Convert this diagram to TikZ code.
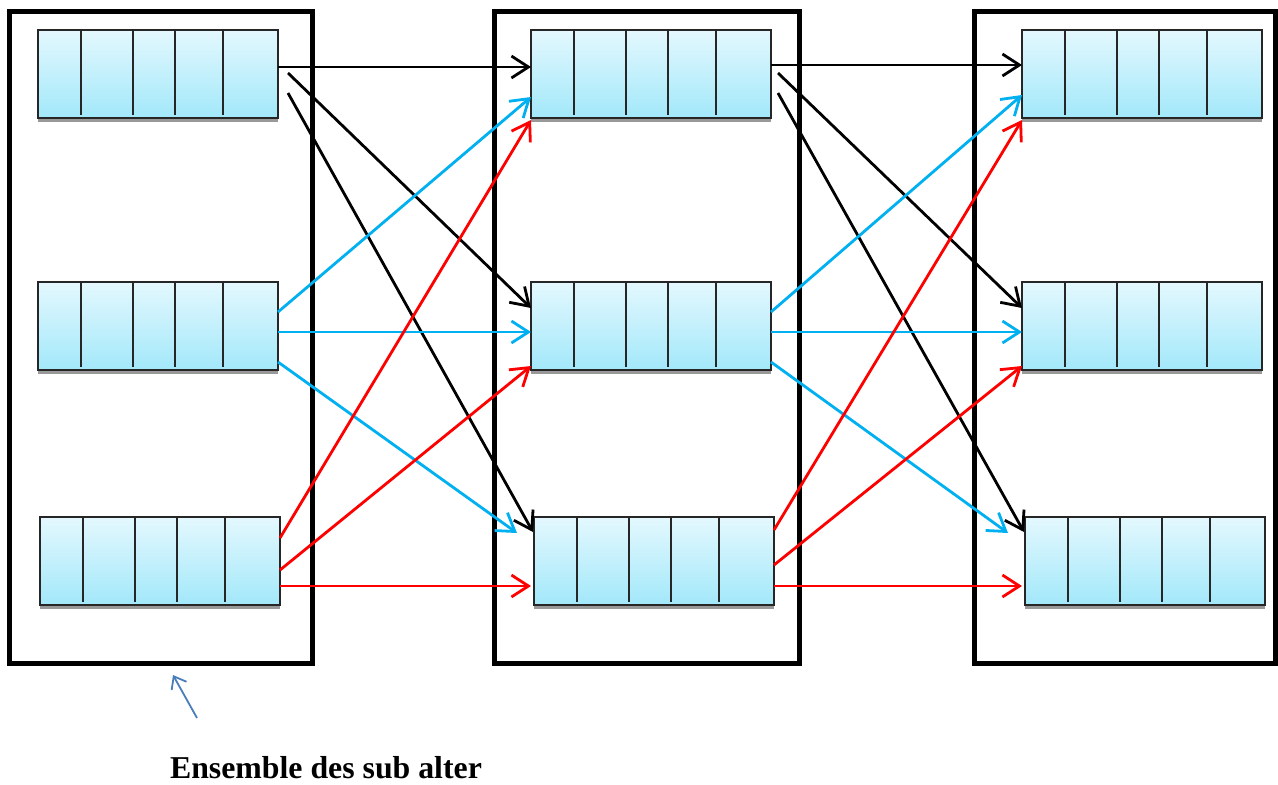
\documentclass[tikz,border=0pt]{standalone}
\usepackage{fontspec}
\setmainfont{Liberation Serif}
\usetikzlibrary{arrows.meta,calc}
\definecolor{qtop}{RGB}{228,248,254}
\definecolor{qbot}{RGB}{162,232,250}
\definecolor{linkblue}{RGB}{0,176,240}
\definecolor{linkred}{RGB}{255,0,0}
\definecolor{ptrblue}{RGB}{74,126,187}
\tikzset{
  frame/.style={draw=black,line width=5pt},
  qbox/.style={draw=black!85,line width=2.6pt,top color=qtop,bottom color=qbot,
    minimum width=240pt,minimum height=88pt,inner sep=0pt,outer sep=0pt},
  divider/.style={draw=black!85,line width=2.2pt},
  qshadow/.style={fill=black!40},
  link/.style={line width=2.8pt,-{Straight Barb[length=17pt,width=22pt,line width=2.8pt]}},
  klink/.style={link,draw=black},
  blink/.style={link,draw=linkblue},
  rlink/.style={link,draw=linkred},
  ptr/.style={draw=ptrblue,line width=1.8pt,-{Straight Barb[length=11pt,width=17pt,line width=1.8pt]}},
  caption/.style={font=\bfseries\fontsize{31.8}{38}\selectfont,inner sep=0pt}
}
\newcommand\queuebox[3]{%
  \fill[qshadow] (#2,#3+88) rectangle (#2+240,#3+92);
  \node[qbox] (#1) at (#2+120,#3+44) {};
  \foreach \d in {43,95,137,185}
    \draw[divider] ($(#1.north west)+(\d,0)$) -- ($(#1.south west)+(\d,-3)$);
}
\begin{document}
\begin{tikzpicture}[x=1pt,y=-1pt]
\useasboundingbox (0,0) rectangle (1278,785);
\fill[white] (0,0) rectangle (1278,785);
% frames
\draw[frame] (9.5,11.5) rectangle (312.5,663);
\draw[frame] (494.5,11.5) rectangle (799.5,663);
\draw[frame] (974,11.5) rectangle (1275.5,663);
% queues
\queuebox{c1t}{38}{30}
\queuebox{c1m}{38}{282}
\queuebox{c1b}{40}{517}
\queuebox{c2t}{531}{30}
\queuebox{c2m}{531}{282}
\queuebox{c2b}{534}{517}
\queuebox{c3t}{1022}{30}
\queuebox{c3m}{1022}{282}
\queuebox{c3b}{1025}{517}
% column 1 -> column 2
\draw[klink] ($(c1t.north east)+(0,37)$) -- ($(c2t.north west)+(0,37)$);
\draw[klink] ($(c1t.north east)+(10,43)$) -- ($(c2m.north west)+(0,26)$);
\draw[klink] ($(c1t.north east)+(10,63)$) -- ($(c2b.north west)+(-1,15)$);
\draw[blink] ($(c1m.north east)+(0,30)$) -- ($(c2t.north west)+(0,67)$);
\draw[blink] ($(c1m.north east)+(0,50)$) -- ($(c2m.north west)+(0,50)$);
\draw[blink] ($(c1m.north east)+(0,80)$) -- ($(c2b.north west)+(-17,16)$);
\draw[rlink] ($(c1b.north east)+(0,21)$) -- ($(c2t.south west)+(0,2)$);
\draw[rlink] ($(c1b.north east)+(0,53)$) -- ($(c2m.north west)+(0,84)$);
\draw[rlink] ($(c1b.north east)+(0,69)$) -- ($(c2b.north west)+(-3,69)$);
% column 2 -> column 3
\draw[klink] ($(c2t.north east)+(0,35)$) -- ($(c3t.north west)+(0,35)$);
\draw[klink] ($(c2t.north east)+(7,43)$) -- ($(c3m.north west)+(0,26)$);
\draw[klink] ($(c2t.north east)+(7,63)$) -- ($(c3b.north west)+(-1,15)$);
\draw[blink] ($(c2m.north east)+(0,30)$) -- ($(c3t.north west)+(0,65)$);
\draw[blink] ($(c2m.north east)+(0,50)$) -- ($(c3m.north west)+(0,50)$);
\draw[blink] ($(c2m.north east)+(0,80)$) -- ($(c3b.north west)+(-17,16)$);
\draw[rlink] ($(c2b.north east)+(0,13)$) -- ($(c3t.south west)+(0,2)$);
\draw[rlink] ($(c2b.north east)+(0,48)$) -- ($(c3m.north west)+(0,84)$);
\draw[rlink] ($(c2b.north east)+(0,69)$) -- ($(c3b.north west)+(-3,69)$);
% caption with pointer
\coordinate (ptail) at (197,718);
\coordinate (ptip) at (173,675);
\draw[ptr] (ptail) -- (ptip);
\node[caption] (lbl) at (326,768) {Ensemble des sub alter};
\end{tikzpicture}
\end{document}
